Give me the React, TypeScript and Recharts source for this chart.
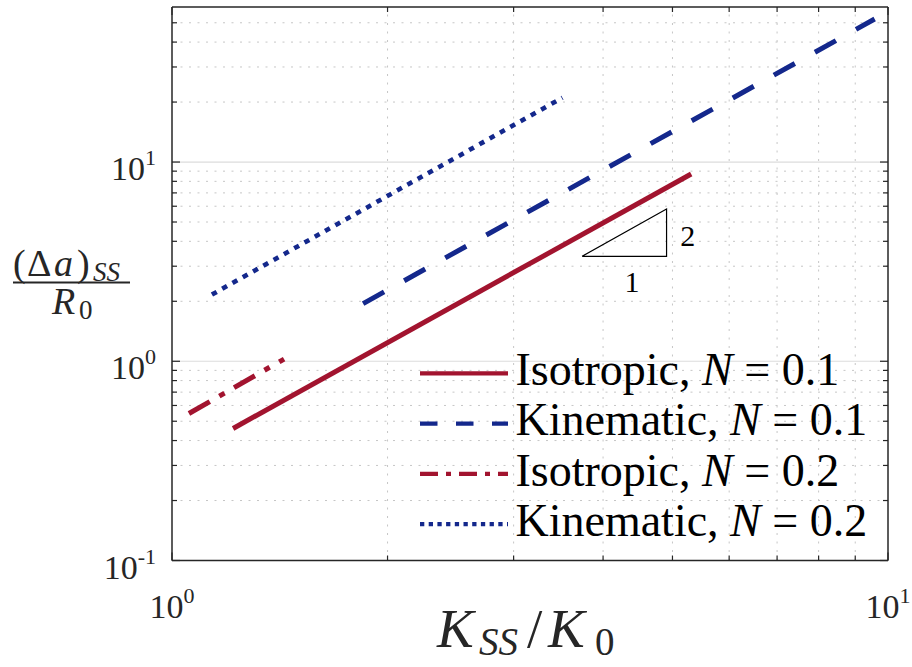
import React from 'react';
import { LineChart, Line, XAxis, YAxis, ReferenceLine, ReferenceDot, Legend } from 'recharts';

// ---- data ----
const xMajorTicks = [1, 10];
const xMinorTicks = [2, 3, 4, 5, 6, 7, 8, 9];
const yMajorTicks = [0.1, 1, 10];
const yMinorTicks = [0.2, 0.3, 0.4, 0.5, 0.6, 0.7, 0.8, 0.9, 2, 3, 4, 5, 6, 7, 8, 9, 20, 30, 40, 50];
const xDomain = [1, 10];
const yDomain = [0.1, 60];

const isotropicN01 = [
  { x: 1.217, y: 0.46 },
  { x: 5.31, y: 8.71 },
];
const kinematicN01 = [
  { x: 1.849, y: 1.948 },
  { x: 9.58, y: 52.2 },
];
const isotropicN02 = [
  { x: 1.056, y: 0.547 },
  { x: 1.434, y: 1.026 },
];
const kinematicN02 = [
  { x: 1.137, y: 2.161 },
  { x: 3.51, y: 21.04 },
];
const slopeTriangle = [
  { x: 3.739, y: 3.364 },
  { x: 4.906, y: 3.364 },
  { x: 4.906, y: 5.817 },
  { x: 3.739, y: 3.364 },
];
const slopeLabels = [
  { x: 5.25, y: 4.27, text: '2' },
  { x: 4.39, y: 2.49, text: '1' },
];
const seriesNames = ['Isotropic', 'Kinematic', 'Isotropic', 'Kinematic'];
const seriesNValues = ['0.1', '0.1', '0.2', '0.2'];

// ---- styles ----
const RED = '#A2142F';
const BLUE = '#14288C';
const AXIS = '#262626';
const FONT = '"Liberation Serif", "Times New Roman", Times, serif';

const seriesData = [isotropicN01, kinematicN01, isotropicN02, kinematicN02];
const seriesStyle = [
  { color: RED, dash: undefined, legendDash: undefined, width: 5 },
  { color: BLUE, dash: '24 23', legendDash: '17.5 18.5', width: 5 },
  { color: RED, dash: '24 11 6 11', legendDash: '18 8 5 8', width: 5 },
  { color: BLUE, dash: '5.5 6.3', legendDash: '4.3 4.4', width: 4.6 },
];

const allXTicks = [...xMajorTicks, ...xMinorTicks].sort((a, b) => a - b);
const allYTicks = [...yMajorTicks, ...yMinorTicks].sort((a, b) => a - b);

const expOf = (v: number) => String(Math.round(Math.log10(v)));

const BottomTick = (props: any) => {
  const { x, y, payload } = props;
  const v = payload.value;
  const major = xMajorTicks.includes(v);
  return (
    <g>
      <line x1={x} x2={x} y1={y} y2={y - (major ? 8 : 5)} stroke={AXIS} strokeWidth={1.2} />
      {major && (
        <text x={x} y={y + 57.5} textAnchor="middle" fontFamily={FONT} fontSize={34} fill={AXIS}>
          10<tspan dy={-15} fontSize={22}>{expOf(v)}</tspan>
        </text>
      )}
    </g>
  );
};

const TopTick = (props: any) => {
  const { x, y, payload } = props;
  const major = xMajorTicks.includes(payload.value);
  return <line x1={x} x2={x} y1={y} y2={y + (major ? 8 : 5)} stroke={AXIS} strokeWidth={1.2} />;
};

const LeftTick = (props: any) => {
  const { x, y, payload } = props;
  const v = payload.value;
  const major = yMajorTicks.includes(v);
  return (
    <g>
      <line x1={x} x2={x + (major ? 8 : 5)} y1={y} y2={y} stroke={AXIS} strokeWidth={1.2} />
      {major && (
        <text x={x - 16} y={y + 18} textAnchor="end" fontFamily={FONT} fontSize={34} fill={AXIS}>
          10<tspan dy={-15} fontSize={22}>{expOf(v)}</tspan>
        </text>
      )}
    </g>
  );
};

const RightTick = (props: any) => {
  const { x, y, payload } = props;
  const major = yMajorTicks.includes(payload.value);
  return <line x1={x} x2={x - (major ? 8 : 5)} y1={y} y2={y} stroke={AXIS} strokeWidth={1.2} />;
};

const XLabel = () => (
  <text y={647} fontFamily={FONT} fontSize={55} fill={AXIS}>
    <tspan x={437} fontStyle="italic" fontFamily={FONT}>K</tspan>
    <tspan x={479} dy={8} fontSize={39} fontStyle="italic" fontFamily={FONT}>SS</tspan>
    <tspan x={527} dy={-8} fontFamily={FONT}>/</tspan>
    <tspan x={548} fontStyle="italic" fontFamily={FONT}>K</tspan>
    <tspan x={595} dy={8} fontSize={39} fontFamily={FONT}>0</tspan>
  </text>
);

const YLabel = () => (
  <g>
    <text y={276} fontSize={38} fontFamily={FONT} fill={AXIS}>
      <tspan x={13} fontFamily={FONT}>(</tspan>
      <tspan x={27} fontFamily={FONT}>Δ</tspan>
      <tspan x={54} fontStyle="italic" fontFamily={FONT}>a</tspan>
      <tspan x={77} fontFamily={FONT}>)</tspan>
      <tspan x={93} dy={5} fontSize={27} fontStyle="italic" fontFamily={FONT}>SS</tspan>
    </text>
    <line x1={13} x2={130} y1={282.5} y2={282.5} stroke={AXIS} strokeWidth={2} />
    <text y={314} fontSize={38} fontFamily={FONT} fill={AXIS}>
      <tspan x={52} fontStyle="italic" fontFamily={FONT}>R</tspan>
      <tspan x={79} dy={5} fontSize={27} fontFamily={FONT}>0</tspan>
    </text>
  </g>
);

const LegendBox = () => (
  <svg width={490} height={210} style={{ overflow: 'visible' }}>
    {seriesNames.map((name, i) => {
      const cy = 30.3 + i * 50.3;
      const s = seriesStyle[i];
      return (
        <g key={i}>
          <line x1={8} x2={96} y1={cy} y2={cy} stroke={s.color} strokeWidth={4.2} strokeDasharray={s.legendDash} />
          <text x={103.5} y={cy + 11.7} fontFamily={FONT} fontSize={46} fill="#000">
            {name}, <tspan fontStyle="italic">N</tspan> = {seriesNValues[i]}
          </text>
        </g>
      );
    })}
  </svg>
);

const makeSlopeText = (text: string) => (props: any) => (
  <text x={props.cx} y={props.cy + 10} textAnchor="middle" fontFamily={FONT} fontSize={30} fill="#000">
    {text}
  </text>
);

export default function App() {
  return (
    <div style={{ position: 'absolute', left: 0, top: 0, background: '#fff' }}>
      <LineChart width={912} height={667} margin={{ top: 6, right: 23, bottom: 105.5, left: 171 }}>
        <XAxis
          dataKey="x"
          type="number"
          scale="log"
          domain={xDomain}
          ticks={allXTicks}
          interval={0}
          allowDataOverflow
          height={1}
          tickSize={0}
          tickMargin={0}
          tickLine={false}
          tick={(p: any) => <BottomTick {...p} />}
          axisLine={{ stroke: AXIS, strokeWidth: 1.5 }}
          label={<XLabel />}
        />
        <XAxis
          xAxisId="top"
          orientation="top"
          dataKey="x"
          type="number"
          scale="log"
          domain={xDomain}
          ticks={allXTicks}
          interval={0}
          allowDataOverflow
          height={1}
          tickSize={0}
          tickMargin={0}
          tickLine={false}
          tick={(p: any) => <TopTick {...p} />}
          axisLine={{ stroke: AXIS, strokeWidth: 1.5 }}
        />
        <YAxis
          type="number"
          scale="log"
          domain={yDomain}
          ticks={allYTicks}
          interval={0}
          allowDataOverflow
          width={1}
          tickSize={0}
          tickMargin={0}
          tickLine={false}
          tick={(p: any) => <LeftTick {...p} />}
          axisLine={{ stroke: AXIS, strokeWidth: 1.5 }}
          label={<YLabel />}
        />
        <YAxis
          yAxisId="right"
          orientation="right"
          type="number"
          scale="log"
          domain={yDomain}
          ticks={allYTicks}
          interval={0}
          allowDataOverflow
          width={1}
          tickSize={0}
          tickMargin={0}
          tickLine={false}
          tick={(p: any) => <RightTick {...p} />}
          axisLine={{ stroke: AXIS, strokeWidth: 1.5 }}
        />
        {xMinorTicks.map((v) => (
          <ReferenceLine key={'gx' + v} x={v} stroke="#c6c6c6" strokeWidth={1} strokeDasharray="2 6.5" />
        ))}
        {yMinorTicks.map((v) => (
          <ReferenceLine key={'gy' + v} y={v} stroke="#c6c6c6" strokeWidth={1} strokeDasharray="2 6.5" />
        ))}
        {yMajorTicks
          .filter((v) => v > yDomain[0] && v < yDomain[1])
          .map((v) => (
            <ReferenceLine key={'gY' + v} y={v} stroke="#dcdcdc" strokeWidth={1.2} />
          ))}
        {seriesData.map((d, i) => (
          <Line
            key={i}
            data={d}
            dataKey="y"
            name={seriesNames[i] + ', N = ' + seriesNValues[i]}
            type="linear"
            stroke={seriesStyle[i].color}
            strokeWidth={seriesStyle[i].width}
            strokeDasharray={seriesStyle[i].dash}
            strokeLinecap="butt"
            dot={false}
            activeDot={false}
            isAnimationActive={false}
          />
        ))}
        <Line
          data={slopeTriangle}
          dataKey="y"
          name="slope"
          type="linear"
          stroke="#000"
          strokeWidth={1.2}
          dot={false}
          activeDot={false}
          legendType="none"
          isAnimationActive={false}
        />
        {slopeLabels.map((l) => (
          <ReferenceDot key={l.text} x={l.x} y={l.y} r={1} shape={makeSlopeText(l.text)} />
        ))}
        <Legend
          layout="horizontal"
          verticalAlign="middle"
          align="center"
          content={() => <LegendBox />}
          wrapperStyle={{ left: 412, top: 343, width: 490, height: 210 }}
        />
      </LineChart>
    </div>
  );
}
